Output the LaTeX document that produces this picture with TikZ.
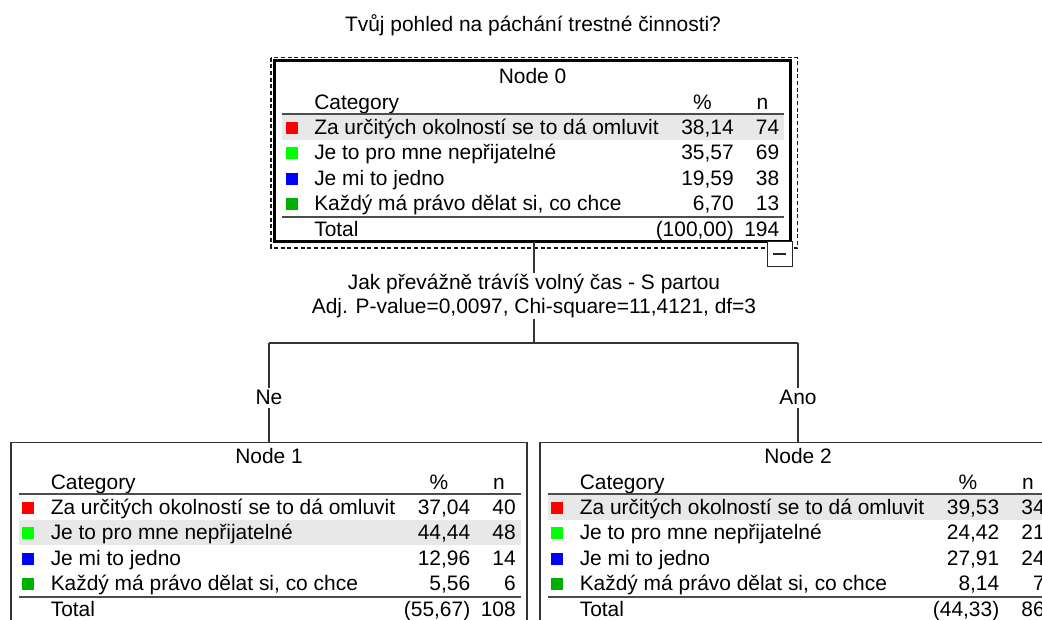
\documentclass[tikz,border=0pt]{standalone}
\usepackage{fontspec}
\setmainfont{Liberation Sans}
\usepackage{tikz}

\definecolor{catred}{RGB}{255,0,0}
\definecolor{catlime}{RGB}{0,255,0}
\definecolor{catblue}{RGB}{0,0,255}
\definecolor{catgreen}{RGB}{0,176,0}
\definecolor{bandgray}{RGB}{232,232,232}

\begin{document}
\begin{tikzpicture}[
  x=0.75pt, y=-0.75pt,
  txt/.style={inner sep=0pt, font=\fontsize{15.7}{18}\selectfont},
  box/.style={draw=black!80, line width=1.1pt, minimum width=387pt, minimum height=135.75pt, anchor=north west, inner sep=0pt, outer sep=0pt},
  rule/.style={black!70, line width=1.1pt},
  link/.style={black!80, line width=0.8pt},
  swatch/.style={fill=#1, minimum size=9pt, inner sep=0pt},
  branch/.style={txt, fill=white, text=black, inner sep=2pt}
]
\useasboundingbox (0,0) rectangle (1042,619);
\clip (0,0) rectangle (1042,619);
\fill[white] (0,0) rectangle (1042,619);

\node[txt, anchor=base] (title) at (533,31) {Tvůj pohled na páchání trestné činnosti?};

% root node
\draw[black!90, dash pattern=on 3pt off 2pt, line width=0.8pt] (271,57.5) rectangle (797.5,248);
\node[box, draw=black, line width=2.25pt] (n0) at (274.5,60.5) {};
\node[txt, anchor=base] (n0-title) at (532.5,83.5) {Node 0};
\node[txt, anchor=base west] (n0-cat) at (314,109) {Category};
\node[txt, anchor=base] (n0-pct) at (702.5,109) {\%};
\node[txt, anchor=base] (n0-n) at (762.5,109) {n};
\fill[bandgray] (282,114) rectangle (784,139.5);
\draw[rule] (282,114) -- (784,114);
\foreach \i/\col/\lab/\p/\n in {1/catred/Za určitých okolností se to dá omluvit/38{,}14/74, 2/catlime/Je to pro mne nepřijatelné/35{,}57/69, 3/catblue/Je mi to jedno/19{,}59/38, 4/catgreen/Každý má právo dělat si{,} co chce/6{,}70/13} {
  \node[swatch=\col] (n0-sq\i) at (291.5,{127.5+25.5*(\i-1)}) {};
  \node[txt, anchor=base west] (n0-lab\i) at (314,{134+25.5*(\i-1)}) {\lab};
  \node[txt, anchor=base east] (n0-p\i) at (734,{134+25.5*(\i-1)}) {\p};
  \node[txt, anchor=base east] (n0-n\i) at (779.5,{134+25.5*(\i-1)}) {\n};
}
\draw[rule] (282,217) -- (784,217);
\node[txt, anchor=base west] (n0-tot) at (314,236) {Total};
\node[txt, anchor=base east] (n0-totp) at (734,236) {(100,00)};
\node[txt, anchor=base east] (n0-totn) at (779.5,236) {194};
\node[draw=black!85, fill=white, line width=0.75pt, minimum size=18.75pt, inner sep=0pt] (tog) at (779.5,253.5) {};
\draw[line width=1.5pt, black!85] ([xshift=-5pt]tog.center) -- ([xshift=5pt]tog.center);

% Ne
\node[box] (n1) at (11,442.5) {};
\node[txt, anchor=base] (n1-title) at (269,463.5) {Node 1};
\node[txt, anchor=base west] (n1-cat) at (50.5,489) {Category};
\node[txt, anchor=base] (n1-pct) at (439,489) {\%};
\node[txt, anchor=base] (n1-n) at (499,489) {n};
\fill[bandgray] (18.5,519.5) rectangle (520.5,545);
\draw[rule] (18.5,494) -- (520.5,494);
\foreach \i/\col/\lab/\p/\n in {1/catred/Za určitých okolností se to dá omluvit/37{,}04/40, 2/catlime/Je to pro mne nepřijatelné/44{,}44/48, 3/catblue/Je mi to jedno/12{,}96/14, 4/catgreen/Každý má právo dělat si{,} co chce/5{,}56/6} {
  \node[swatch=\col] (n1-sq\i) at (28,{507.5+25.5*(\i-1)}) {};
  \node[txt, anchor=base west] (n1-lab\i) at (50.5,{514+25.5*(\i-1)}) {\lab};
  \node[txt, anchor=base east] (n1-p\i) at (470.5,{514+25.5*(\i-1)}) {\p};
  \node[txt, anchor=base east] (n1-n\i) at (516,{514+25.5*(\i-1)}) {\n};
}
\draw[rule] (18.5,597) -- (520.5,597);
\node[txt, anchor=base west] (n1-tot) at (50.5,616) {Total};
\node[txt, anchor=base east] (n1-totp) at (470.5,616) {(55,67)};
\node[txt, anchor=base east] (n1-totn) at (516,616) {108};

% Ano
\node[box] (n2) at (540,442.5) {};
\node[txt, anchor=base] (n2-title) at (798,463.5) {Node 2};
\node[txt, anchor=base west] (n2-cat) at (579.5,489) {Category};
\node[txt, anchor=base] (n2-pct) at (968,489) {\%};
\node[txt, anchor=base] (n2-n) at (1028,489) {n};
\fill[bandgray] (547.5,494) rectangle (1049.5,519.5);
\draw[rule] (547.5,494) -- (1049.5,494);
\foreach \i/\col/\lab/\p/\n in {1/catred/Za určitých okolností se to dá omluvit/39{,}53/34, 2/catlime/Je to pro mne nepřijatelné/24{,}42/21, 3/catblue/Je mi to jedno/27{,}91/24, 4/catgreen/Každý má právo dělat si{,} co chce/8{,}14/7} {
  \node[swatch=\col] (n2-sq\i) at (557,{507.5+25.5*(\i-1)}) {};
  \node[txt, anchor=base west] (n2-lab\i) at (579.5,{514+25.5*(\i-1)}) {\lab};
  \node[txt, anchor=base east] (n2-p\i) at (999.5,{514+25.5*(\i-1)}) {\p};
  \node[txt, anchor=base east] (n2-n\i) at (1045,{514+25.5*(\i-1)}) {\n};
}
\draw[rule] (547.5,597) -- (1049.5,597);
\node[txt, anchor=base west] (n2-tot) at (579.5,616) {Total};
\node[txt, anchor=base east] (n2-totp) at (999.5,616) {(44,33)};
\node[txt, anchor=base east] (n2-totn) at (1045,616) {86};

% split
\node[txt, fill=white, align=center, inner ysep=1pt] (split) at (534,296) {Jak převážně trávíš volný čas - S partou\\Adj. P-value=0,0097, Chi-square=11,4121, df=3};
\coordinate (fork) at (534,343);
\draw[link] (split.north |- n0.south) -- (split.north);
\draw[link] (split.south) -- (fork);
\draw[link] (fork -| n1.north) -- (fork -| n2.north);
\draw[link] (fork -| n1.north) -- node[branch, pos=0.55] (ne) {Ne} (n1.north);
\draw[link] (fork -| n2.north) -- node[branch, pos=0.55] (ano) {Ano} (n2.north);
\end{tikzpicture}
\end{document}
